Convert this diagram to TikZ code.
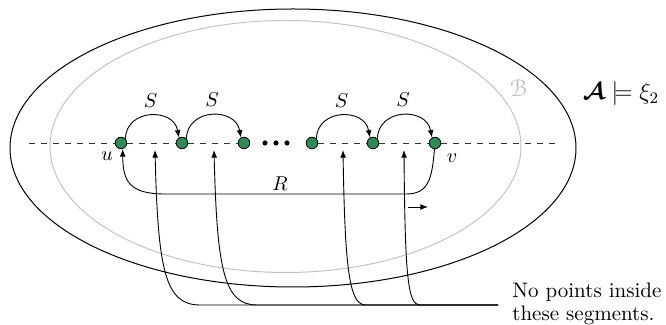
\documentclass[tikz,border=0pt]{standalone}
\usepackage{amsmath,amssymb,bm}
\usepackage[mathscr]{eucal}
\usetikzlibrary{arrows.meta}
\definecolor{nodegreen}{RGB}{46,139,87}
\definecolor{lightgr}{RGB}{195,195,195}
\tikzset{
  pt/.style={circle,draw=black,fill=nodegreen,line width=0.4pt,minimum size=5.8pt,inner sep=0pt},
  dotn/.style={circle,fill=black,minimum size=2.6pt,inner sep=0pt},
  arr/.style={line width=0.45pt,-{Latex[length=3.8pt,width=2.9pt]}},
  lbl/.style={inner sep=0pt},
}
\begin{document}
\begin{tikzpicture}[x=0.5pt,y=-0.5pt]
\useasboundingbox (0,0) rectangle (666,325);
% sets
\draw[line width=0.5pt] (293,148) ellipse [x radius=283, y radius=139];
\draw[lightgr,line width=0.5pt] (285.5,146.5) ellipse [x radius=235.5, y radius=126];
\node[lbl,text=lightgr,font=\large] (blab) at (519,88) {$\mathscr{B}$};
\node[lbl,font=\large] (alab) at (621,94) {$\boldsymbol{\mathcal{A}}\models\xi_2$};
% points
\node[pt] (n1) at (121,143) {};
\node[pt] (n2) at (182,143) {};
\node[pt] (n3) at (244,143) {};
\node[pt] (n4) at (312,143) {};
\node[pt] (n5) at (373,143) {};
\node[pt] (n6) at (435,143) {};
\node[dotn] (d1) at (265,143) {};
\node[dotn] (d2) at (276,143) {};
\node[dotn] (d3) at (287,143) {};
\coordinate (dl) at (29,143);
\coordinate (dr) at (560,143);
\draw[dashed,line width=0.45pt,black!80] (dl) -- (n1) (n1) -- (n2) (n2) -- (n3);
\draw[dashed,line width=0.45pt,black!80] (n4) -- (n5) (n5) -- (n6) (n6) -- (dr);
% S arcs
\draw[arr] (n1.45) to[out=88,in=100,looseness=1.45] node[lbl,above=4pt,pos=0.5]{$S$} (n2.120);
\draw[arr] (n2.45) to[out=88,in=100,looseness=1.45] node[lbl,above=4pt,pos=0.5]{$S$} (n3.120);
\draw[arr] (n4.45) to[out=88,in=100,looseness=1.45] node[lbl,above=4pt,pos=0.5]{$S$} (n5.120);
\draw[arr] (n5.45) to[out=88,in=100,looseness=1.45] node[lbl,above=4pt,pos=0.5]{$S$} (n6.120);
\node[lbl] (ulab) at (107,156) {$u$};
\node[lbl] (vlab) at (452,158) {$v$};
% R
\draw[arr] (n6.265) .. controls (432,180) and (428,194) .. (406,194)
  -- (165,194) .. controls (128,194) and (123,180) .. (n1.285);
\node[lbl] (rlab) at (280,184) {$R$};
\coordinate (sa1) at (408,207);
\coordinate (sa2) at (428,207);
\draw[arr] (sa1) -- (sa2);
% segment arrows
\coordinate (seg) at (498,305);
\coordinate (t1) at (155,150);
\coordinate (t2) at (214,150);
\coordinate (t3) at (343,150);
\coordinate (t4) at (404,150);
\draw[arr] (seg) -- (200,305) .. controls (165,305) and (158,270) .. (t1);
\draw[arr] (seg) -- (257,305) .. controls (224,305) and (217,270) .. (t2);
\draw[arr] (seg) -- (366,305) .. controls (350,305) and (345,275) .. (t3);
\draw[arr] (seg) -- (420,305) .. controls (408,305) and (405,278) .. (t4);
\node[lbl,anchor=north west,align=left,font=\fontsize{10.5}{11.2}\selectfont] (txt) at (512,283) {No points inside\\these segments.};
\end{tikzpicture}
\end{document}
